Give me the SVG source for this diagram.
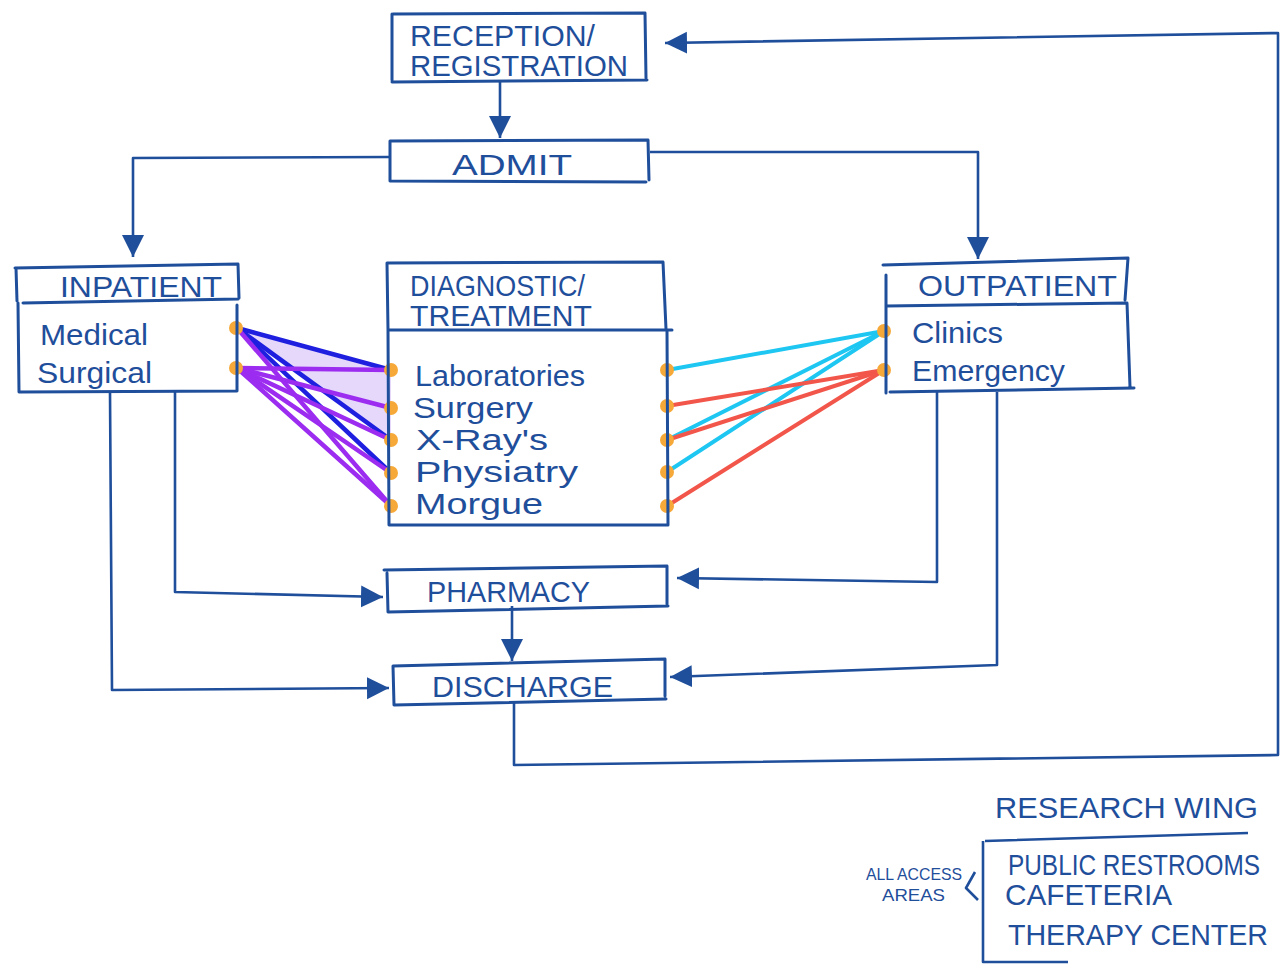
<svg xmlns="http://www.w3.org/2000/svg" width="1281" height="968" viewBox="0 0 1281 968">
<defs>
<style>
.box{fill:none;stroke:#1f4e9b;stroke-width:3;stroke-linejoin:round;stroke-linecap:round}
.ln{fill:none;stroke:#1f4e9b;stroke-width:2.6;stroke-linejoin:round}
.t{font-family:"Liberation Sans",Arial,sans-serif;fill:#1f4e9b;font-size:30px}
.s{font-family:"Liberation Sans",Arial,sans-serif;fill:#1f4e9b;font-size:17px}
.pu{stroke:#9b2cf0;stroke-width:4.5;stroke-linecap:round}
.bl{stroke:#1f1fe0;stroke-width:4.5;stroke-linecap:round}
.cy{stroke:#1ec6f2;stroke-width:4;stroke-linecap:round}
.rd{stroke:#f2564a;stroke-width:4;stroke-linecap:round}
.dot{fill:#f6a938}
</style>
<marker id="ah" markerUnits="userSpaceOnUse" markerWidth="24" markerHeight="24" refX="22" refY="12" orient="auto">
<path d="M0,1 L22,12 L0,23 Z" fill="#1f4e9b"/>
</marker>
</defs>
<rect width="1281" height="968" fill="#ffffff"/>

<g id="connectors">
<path class="ln" d="M500,82 L500,138" marker-end="url(#ah)"/>
<path class="ln" d="M390,157 L133,158 L133,257" marker-end="url(#ah)"/>
<path class="ln" d="M650,152 L978,152 L978,259" marker-end="url(#ah)"/>
<path class="ln" d="M175,392 L175,592 L383,597" marker-end="url(#ah)"/>
<path class="ln" d="M110,392 L112,690 L389,688" marker-end="url(#ah)"/>
<path class="ln" d="M937,392 L937,582 L677,578" marker-end="url(#ah)"/>
<path class="ln" d="M997,392 L997,665 L670,677" marker-end="url(#ah)"/>
<path class="ln" d="M512,606 L512,661" marker-end="url(#ah)"/>
<path class="ln" d="M514,702 L514,765 L1278,755 L1278,33 L665,43" marker-end="url(#ah)"/>
<g id="links-left">
<polygon points="237,328 391,370 391,440" fill="#b48ef0" opacity="0.35"/>
<line class="bl" x1="237" y1="328" x2="391" y2="370"/>
<line class="bl" x1="237" y1="328" x2="391" y2="440"/>
<line class="bl" x1="237" y1="328" x2="391" y2="473"/>
<line class="pu" x1="237" y1="368" x2="391" y2="370"/>
<line class="pu" x1="237" y1="368" x2="391" y2="408"/>
<line class="pu" x1="237" y1="368" x2="391" y2="440"/>
<line class="pu" x1="237" y1="368" x2="391" y2="473"/>
<line class="pu" x1="237" y1="368" x2="391" y2="506"/>
<line class="pu" x1="237" y1="328" x2="391" y2="506"/>
</g>
<g id="links-right">
<line class="cy" x1="884" y1="331" x2="667" y2="370"/>
<line class="cy" x1="884" y1="331" x2="667" y2="440"/>
<line class="cy" x1="884" y1="331" x2="667" y2="472"/>
<line class="rd" x1="884" y1="370" x2="667" y2="406"/>
<line class="rd" x1="884" y1="370" x2="667" y2="440"/>
<line class="rd" x1="884" y1="370" x2="667" y2="506"/>
</g>
<g id="dots">
<circle class="dot" cx="236" cy="328" r="7"/>
<circle class="dot" cx="236" cy="368" r="7"/>
<circle class="dot" cx="391" cy="370" r="7"/>
<circle class="dot" cx="391" cy="408" r="7"/>
<circle class="dot" cx="391" cy="440" r="7"/>
<circle class="dot" cx="391" cy="473" r="7"/>
<circle class="dot" cx="391" cy="506" r="7"/>
<circle class="dot" cx="667" cy="370" r="7"/>
<circle class="dot" cx="667" cy="406" r="7"/>
<circle class="dot" cx="667" cy="440" r="7"/>
<circle class="dot" cx="667" cy="472" r="7"/>
<circle class="dot" cx="667" cy="506" r="7"/>
<circle class="dot" cx="884" cy="331" r="7"/>
<circle class="dot" cx="884" cy="370" r="7"/>
</g>
</g>

<g id="reception">
<path class="box" d="M393,14 L645,13 L646,78 M392,80 L392,14 M392,82 L647,80"/>
<text class="t" x="410" y="46" font-size="26" textLength="185" lengthAdjust="spacingAndGlyphs">RECEPTION/</text>
<text class="t" x="410" y="76" font-size="26" textLength="218" lengthAdjust="spacingAndGlyphs">REGISTRATION</text>
</g>

<g id="admit">
<path class="box" d="M390,141 L648,140 L649,180 M390,141 L390,181 L646,182"/>
<text class="t" x="452" y="175" font-size="31" textLength="120" lengthAdjust="spacingAndGlyphs">ADMIT</text>
</g>

<g id="inpatient">
<path class="box" d="M15,268 L238,264 L239,298 M16,268 L17,301 M23,303 L238,299 M18,303 L19,392 L237,391 L237,305"/>
<text class="t" x="60" y="297" font-size="28" textLength="162" lengthAdjust="spacingAndGlyphs">INPATIENT</text>
<text class="t" x="40" y="345" textLength="108" lengthAdjust="spacingAndGlyphs">Medical</text>
<text class="t" x="37" y="383" textLength="115" lengthAdjust="spacingAndGlyphs">Surgical</text>
</g>

<g id="diagnostic">
<path class="box" d="M387,263 L663,262 L666,329 M387,263 L388,330 L672,330 M388,330 L389,525 L668,525 L667,330"/>
<text class="t" x="410" y="296" font-size="24" textLength="175" lengthAdjust="spacingAndGlyphs">DIAGNOSTIC/</text>
<text class="t" x="410" y="326" font-size="24" textLength="182" lengthAdjust="spacingAndGlyphs">TREATMENT</text>
<text class="t" x="415" y="386" font-size="31" textLength="170" lengthAdjust="spacingAndGlyphs">Laboratories</text>
<text class="t" x="413" y="418" font-size="31" textLength="120" lengthAdjust="spacingAndGlyphs">Surgery</text>
<text class="t" x="416" y="450" font-size="31" textLength="132" lengthAdjust="spacingAndGlyphs">X-Ray's</text>
<text class="t" x="415" y="482" font-size="31" textLength="163" lengthAdjust="spacingAndGlyphs">Physiatry</text>
<text class="t" x="415" y="514" font-size="31" textLength="128" lengthAdjust="spacingAndGlyphs">Morgue</text>
</g>

<g id="outpatient">
<path class="box" d="M883,265 L1128,258 L1125,300 M886,275 L886,306 M886,306 L1127,303 L1130,387 M886,306 L886,393 M890,392 L1134,388"/>
<text class="t" x="918" y="296" font-size="28" textLength="199" lengthAdjust="spacingAndGlyphs">OUTPATIENT</text>
<text class="t" x="912" y="343" textLength="91" lengthAdjust="spacingAndGlyphs">Clinics</text>
<text class="t" x="912" y="381" textLength="153" lengthAdjust="spacingAndGlyphs">Emergency</text>
</g>

<g id="pharmacy">
<path class="box" d="M384,570 L667,566 L667,604 M387,573 L388,612 L668,606"/>
<text class="t" x="427" y="602" font-size="28" textLength="163" lengthAdjust="spacingAndGlyphs">PHARMACY</text>
</g>

<g id="discharge">
<path class="box" d="M393,666 L665,659 L665,696 M393,666 L394,705 L666,699"/>
<text class="t" x="432" y="697" font-size="28" textLength="181" lengthAdjust="spacingAndGlyphs">DISCHARGE</text>
</g>

<g id="research-wing">
<text class="t" x="995" y="818" font-size="27" textLength="263" lengthAdjust="spacingAndGlyphs">RESEARCH WING</text>
<path class="ln" d="M985,841 L1248,833 M983,841 L983,962 L1068,962 M975,872 L966,888 L978,900"/>
<text class="t" x="1008" y="875" font-size="23" textLength="252" lengthAdjust="spacingAndGlyphs">PUBLIC RESTROOMS</text>
<text class="t" x="1005" y="905" font-size="28" textLength="167" lengthAdjust="spacingAndGlyphs">CAFETERIA</text>
<text class="t" x="1008" y="945" font-size="26" textLength="260" lengthAdjust="spacingAndGlyphs">THERAPY CENTER</text>
<text class="s" x="866" y="880" textLength="96" lengthAdjust="spacingAndGlyphs">ALL ACCESS</text>
<text class="s" x="882" y="901" textLength="63" lengthAdjust="spacingAndGlyphs">AREAS</text>
</g>
</svg>
